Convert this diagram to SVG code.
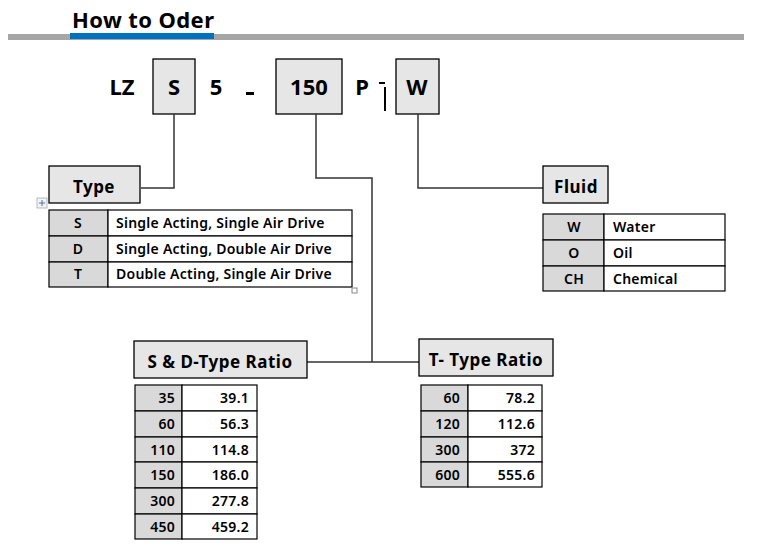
<svg xmlns="http://www.w3.org/2000/svg" width="760" height="550" viewBox="0 0 760 550">
<style>
.big{font-family:"Noto Sans","Open Sans",sans-serif;font-weight:bold;font-size:22px;fill:#000}
.hdr{font-family:"Noto Sans","Open Sans",sans-serif;font-weight:bold;font-size:17px;letter-spacing:0.5px;fill:#000}
.td{font-family:"Noto Sans","Open Sans",sans-serif;font-weight:600;font-size:14px;letter-spacing:0.25px;fill:#000}
.box{fill:#e6e6e6;stroke:#000;stroke-width:1.3}
.cell{fill:#fff;stroke:#000;stroke-width:1.2}
.cellg{fill:#d9d9d9;stroke:#000;stroke-width:1.2}
.con{fill:none;stroke:#333;stroke-width:1.5}
.c{text-anchor:middle}
.r{text-anchor:end}
</style>
<rect width="760" height="550" fill="#fff"/>
<g id="title">
<text x="72" y="28" font-family="Noto Sans, sans-serif" font-weight="bold" font-size="22" letter-spacing="0.4" fill="#000">How to Oder</text>
<rect x="8" y="34" width="736" height="6" fill="#a6a6a6"/>
<rect x="70" y="33" width="144" height="6" fill="#0070c0"/>
</g>
<g id="code">
<text class="big c" x="122" y="95">LZ</text>
<rect class="box" x="153" y="59" width="42" height="55"/>
<text class="big c" x="174" y="95">S</text>
<text class="big c" x="216" y="95">5</text>
<rect x="246" y="92" width="8" height="3" fill="#000"/>
<rect class="box" x="276" y="59" width="66" height="55"/>
<text class="big c" x="309" y="95">150</text>
<text class="big c" x="362" y="95">P</text>
<rect x="379" y="82" width="6" height="2" fill="#000"/>
<rect x="384" y="87" width="2" height="24" fill="#000"/>
<rect class="box" x="396" y="59" width="43" height="55"/>
<text class="big c" x="417" y="95">W</text>
</g>
<g id="connectors">
<polyline class="con" points="174,114 174,188 141,188"/>
<polyline class="con" points="316,114 316,178 372,178 372,362"/>
<line class="con" x1="307" y1="362" x2="419" y2="362"/>
<polyline class="con" points="418,114 418,188 543,188"/>
</g>
<g id="type">
<rect class="box" x="49" y="166" width="91" height="37"/>
<text class="hdr c" x="94" y="193">Type</text>
<rect x="37" y="198" width="10" height="10" fill="#f4f4f4" stroke="#aaa" stroke-width="0.8"/>
<path d="M42 200v6M39 203h6" stroke="#4472c4" stroke-width="1"/>
<rect class="cellg" x="49" y="210" width="59" height="26"/>
<rect class="cell" x="108" y="210" width="244" height="26"/>
<rect class="cellg" x="49" y="236" width="59" height="26"/>
<rect class="cell" x="108" y="236" width="244" height="26"/>
<rect class="cellg" x="49" y="262" width="59" height="25"/>
<rect class="cell" x="108" y="262" width="244" height="25"/>
<text class="td c" x="78" y="228">S</text>
<text class="td" x="116" y="228">Single Acting, Single Air Drive</text>
<text class="td c" x="78" y="254">D</text>
<text class="td" x="116" y="254">Single Acting, Double Air Drive</text>
<text class="td c" x="78" y="279">T</text>
<text class="td" x="116" y="279">Double Acting, Single Air Drive</text>
<rect x="352" y="288" width="5" height="5" fill="#fff" stroke="#888" stroke-width="1"/>
</g>
<g id="fluid">
<rect class="box" x="543" y="166" width="65" height="37"/>
<text class="hdr c" x="576" y="193">Fluid</text>
<rect class="cellg" x="543" y="214" width="61" height="26"/>
<rect class="cell" x="604" y="214" width="121" height="26"/>
<rect class="cellg" x="543" y="240" width="61" height="26"/>
<rect class="cell" x="604" y="240" width="121" height="26"/>
<rect class="cellg" x="543" y="266" width="61" height="25"/>
<rect class="cell" x="604" y="266" width="121" height="25"/>
<text class="td c" x="574" y="232">W</text>
<text class="td" x="613" y="232">Water</text>
<text class="td c" x="574" y="258">O</text>
<text class="td" x="613" y="258">Oil</text>
<text class="td c" x="574" y="284">CH</text>
<text class="td" x="613" y="284">Chemical</text>
</g>
<g id="sd-ratio">
<rect class="box" x="134" y="341" width="173" height="37"/>
<text class="hdr c" x="220" y="368">S &amp; D-Type Ratio</text>
<rect class="cellg" x="135" y="385" width="47" height="26"/>
<rect class="cell" x="182" y="385" width="75" height="26"/>
<rect class="cellg" x="135" y="411" width="47" height="26"/>
<rect class="cell" x="182" y="411" width="75" height="26"/>
<rect class="cellg" x="135" y="437" width="47" height="25"/>
<rect class="cell" x="182" y="437" width="75" height="25"/>
<rect class="cellg" x="135" y="462" width="47" height="26"/>
<rect class="cell" x="182" y="462" width="75" height="26"/>
<rect class="cellg" x="135" y="488" width="47" height="26"/>
<rect class="cell" x="182" y="488" width="75" height="26"/>
<rect class="cellg" x="135" y="514" width="47" height="25"/>
<rect class="cell" x="182" y="514" width="75" height="25"/>
<text class="td r" x="175" y="403">35</text><text class="td r" x="249" y="403">39.1</text>
<text class="td r" x="175" y="429">60</text><text class="td r" x="249" y="429">56.3</text>
<text class="td r" x="175" y="455">110</text><text class="td r" x="249" y="455">114.8</text>
<text class="td r" x="175" y="480">150</text><text class="td r" x="249" y="480">186.0</text>
<text class="td r" x="175" y="506">300</text><text class="td r" x="249" y="506">277.8</text>
<text class="td r" x="175" y="532">450</text><text class="td r" x="249" y="532">459.2</text>
</g>
<g id="t-ratio">
<rect class="box" x="419" y="339" width="134" height="37"/>
<text class="hdr c" x="486" y="366">T- Type Ratio</text>
<rect class="cellg" x="421" y="385" width="47" height="26"/>
<rect class="cell" x="468" y="385" width="74" height="26"/>
<rect class="cellg" x="421" y="411" width="47" height="26"/>
<rect class="cell" x="468" y="411" width="74" height="26"/>
<rect class="cellg" x="421" y="437" width="47" height="25"/>
<rect class="cell" x="468" y="437" width="74" height="25"/>
<rect class="cellg" x="421" y="462" width="47" height="25"/>
<rect class="cell" x="468" y="462" width="74" height="25"/>
<text class="td r" x="460" y="403">60</text><text class="td r" x="535" y="403">78.2</text>
<text class="td r" x="460" y="429">120</text><text class="td r" x="535" y="429">112.6</text>
<text class="td r" x="460" y="455">300</text><text class="td r" x="535" y="455">372</text>
<text class="td r" x="460" y="480">600</text><text class="td r" x="535" y="480">555.6</text>
</g>
</svg>
